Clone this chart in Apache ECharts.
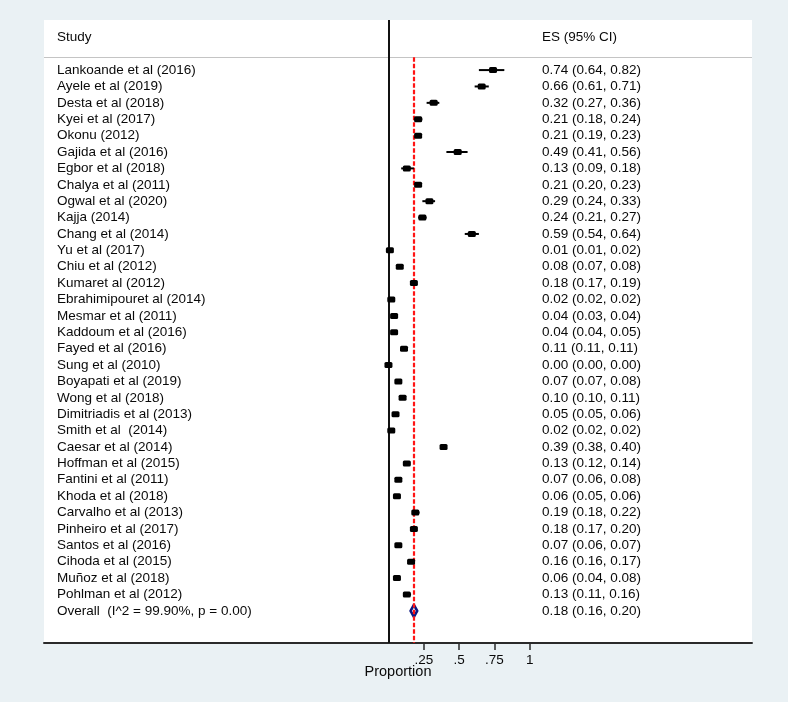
<!DOCTYPE html>
<html>
<head>
<meta charset="utf-8">
<script src="https://cdn.jsdelivr.net/npm/echarts@6/dist/echarts.min.js"></script>
<style>
html,body{margin:0;padding:0;background:#eaf1f4;}
#c{width:788px;height:702px;}
</style>
</head>
<body>
<div id="c"></div>
<script>
const studies = [
  'Lankoande et al (2016)','Ayele et al (2019)','Desta et al (2018)','Kyei et al (2017)',
  'Okonu (2012)','Gajida et al (2016)','Egbor et al (2018)','Chalya et al (2011)',
  'Ogwal et al (2020)','Kajja (2014)','Chang et al (2014)','Yu et al (2017)',
  'Chiu et al (2012)','Kumaret al (2012)','Ebrahimipouret al (2014)','Mesmar et al (2011)',
  'Kaddoum et al (2016)','Fayed et al (2016)','Sung et al (2010)','Boyapati et al (2019)',
  'Wong et al (2018)','Dimitriadis et al (2013)','Smith et al  (2014)','Caesar et al (2014)',
  'Hoffman et al (2015)','Fantini et al (2011)','Khoda et al (2018)','Carvalho et al (2013)',
  'Pinheiro et al (2017)','Santos et al (2016)','Cihoda et al (2015)','Muñoz et al (2018)',
  'Pohlman et al (2012)'
];
const es    = [0.74,0.66,0.32,0.21,0.21,0.49,0.13,0.21,0.29,0.24,0.59,0.01,0.08,0.18,0.02,0.04,0.04,0.11,0.00,0.07,0.10,0.05,0.02,0.39,0.13,0.07,0.06,0.19,0.18,0.07,0.16,0.06,0.13];
const lower = [0.64,0.61,0.27,0.18,0.19,0.41,0.09,0.20,0.24,0.21,0.54,0.01,0.07,0.17,0.02,0.03,0.04,0.11,0.00,0.07,0.10,0.05,0.02,0.38,0.12,0.06,0.05,0.18,0.17,0.06,0.16,0.04,0.11];
const upper = [0.82,0.71,0.36,0.24,0.23,0.56,0.18,0.23,0.33,0.27,0.64,0.02,0.08,0.19,0.02,0.04,0.05,0.11,0.00,0.08,0.11,0.06,0.02,0.40,0.14,0.08,0.06,0.22,0.20,0.07,0.17,0.08,0.16];
const overallLabel = 'Overall  (I^2 = 99.90%, p = 0.00)';
const overallES = 0.18, overallLower = 0.16, overallUpper = 0.20;
const headers = ['Study', 'ES (95% CI)'];
const xTickValues = [0.25, 0.5, 0.75, 1];
const xTickLabels = ['.25', '.5', '.75', '1'];
const xTitle = 'Proportion';

// layout constants
const XMIN = -2.438, XMAX = 2.573;
const YMIN = -3.056, YMAX = 34.96;
const HEADER_ROW = -2.02, HEADER_LINE = -0.776;
const LABEL_X = 57, ES_X = 542;
const FONT = '13.5px "Liberation Sans", Arial, sans-serif';
const TXT = '#0a0a0a';
const fmt = v => v.toFixed(2);

const studyData = studies.map((s, k) => [k, es[k], lower[k], upper[k]]);
const overallRow = studies.length;

const chart = echarts.init(document.getElementById('c'), null, {renderer: 'canvas'});
chart.setOption({
  backgroundColor: '#eaf1f4',
  animation: false,
  grid: {left: 44, right: 36, top: 20, bottom: 59, show: true, backgroundColor: '#ffffff', borderWidth: 0},
  xAxis: {
    type: 'value', min: XMIN, max: XMAX,
    splitLine: {show: false},
    axisLine: {show: true, onZero: false, lineStyle: {color: '#2a2a2a', width: 2}},
    axisTick: {show: true, customValues: xTickValues, length: 7, inside: false, lineStyle: {color: '#2a2a2a', width: 1.5}},
    axisLabel: {show: true, customValues: xTickValues, margin: 10, color: TXT,
      fontFamily: '"Liberation Sans", Arial, sans-serif', fontSize: 13.5,
      formatter: v => { const i = xTickValues.indexOf(v); return i >= 0 ? xTickLabels[i] : ''; }},
    name: xTitle, nameLocation: 'middle', nameGap: 21.5, nameMoveOverlap: false,
    nameTextStyle: {color: TXT, fontFamily: '"Liberation Sans", Arial, sans-serif', fontSize: 14.5}
  },
  yAxis: {
    type: 'value', min: YMIN, max: YMAX, inverse: true,
    show: false, splitLine: {show: false}
  },
  series: [
    {
      type: 'line', data: [], z: 1, silent: true,
      markLine: {
        silent: true, symbol: 'none', animation: false,
        label: {show: false},
        data: [
          [{coord: [XMIN, HEADER_LINE], lineStyle: {color: '#c4c4c4', width: 1.2, type: 'solid'}},
           {coord: [XMAX, HEADER_LINE]}],
          [{coord: [0, YMIN], lineStyle: {color: '#111111', width: 2, type: 'solid'}},
           {coord: [0, YMAX]}]
        ]
      }
    },
    {
      type: 'line', data: [], z: 5, silent: true,
      markLine: {
        silent: true, symbol: 'none', animation: false,
        label: {show: false},
        data: [
          [{coord: [overallES, HEADER_LINE], lineStyle: {color: '#ff1414', width: 2.2, type: [4.5, 2]}},
           {coord: [overallES, YMAX]}]
        ]
      }
    },
    {
      type: 'custom', z: 3, silent: true,
      data: [[HEADER_ROW]],
      renderItem: function (params, api) {
        const p = api.coord([0, api.value(0)]);
        return {type: 'group', children: [
          {type: 'text', x: LABEL_X, y: p[1], style: {text: headers[0], font: FONT, fill: TXT, verticalAlign: 'middle', align: 'left'}},
          {type: 'text', x: ES_X, y: p[1], style: {text: headers[1], font: FONT, fill: TXT, verticalAlign: 'middle', align: 'left'}}
        ]};
      }
    },
    {
      type: 'custom', z: 6, silent: true,
      data: studyData,
      renderItem: function (params, api) {
        const k = api.value(0);
        const c = api.coord([api.value(1), k]);
        const pl = api.coord([api.value(2), k]);
        const ph = api.coord([api.value(3), k]);
        return {type: 'group', children: [
          {type: 'line', shape: {x1: pl[0], y1: pl[1], x2: ph[0], y2: ph[1]}, style: {stroke: '#000', lineWidth: 2}},
          {type: 'rect', shape: {x: c[0] - 4, y: c[1] - 3, width: 8, height: 6, r: 1.5}, style: {fill: '#000'}},
          {type: 'text', x: LABEL_X, y: c[1], style: {text: studies[k], font: FONT, fill: TXT, verticalAlign: 'middle', align: 'left'}},
          {type: 'text', x: ES_X, y: c[1], style: {text: fmt(es[k]) + ' (' + fmt(lower[k]) + ', ' + fmt(upper[k]) + ')', font: FONT, fill: TXT, verticalAlign: 'middle', align: 'left'}}
        ]};
      }
    },
    {
      type: 'custom', z: 4, silent: true,
      data: [[overallRow, overallES, overallLower, overallUpper]],
      renderItem: function (params, api) {
        const k = api.value(0);
        const c = api.coord([api.value(1), k]);
        const pl = api.coord([api.value(2), k]);
        const ph = api.coord([api.value(3), k]);
        const h = 6;
        return {type: 'group', children: [
          {type: 'polygon', shape: {points: [[pl[0] - 0.5, pl[1]], [c[0], c[1] - h], [ph[0] + 0.5, ph[1]], [c[0], c[1] + h]]},
           style: {fill: 'none', stroke: '#0c1680', lineWidth: 2.6, lineJoin: 'round'}},
          {type: 'text', x: LABEL_X, y: c[1], style: {text: overallLabel, font: FONT, fill: TXT, verticalAlign: 'middle', align: 'left'}},
          {type: 'text', x: ES_X, y: c[1], style: {text: fmt(overallES) + ' (' + fmt(overallLower) + ', ' + fmt(overallUpper) + ')', font: FONT, fill: TXT, verticalAlign: 'middle', align: 'left'}}
        ]};
      }
    }
  ]
});
</script>
</body>
</html>
